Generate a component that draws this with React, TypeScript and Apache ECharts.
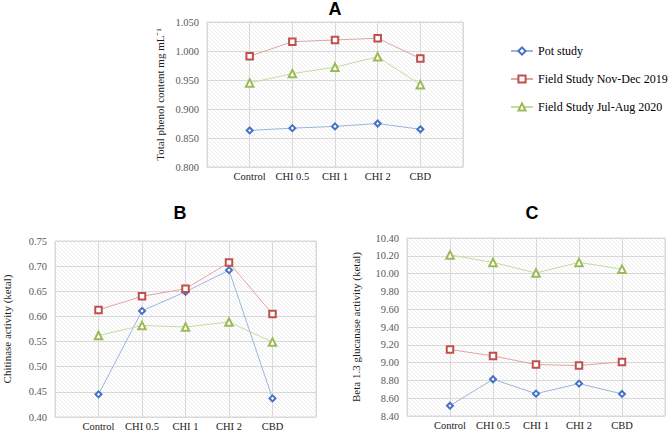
import React, { useEffect, useRef } from "react";
import * as echarts from "echarts";

const categories = ["Control", "CHI 0.5", "CHI 1", "CHI 2", "CBD"];
const seriesNames = ["Pot study", "Field Study Nov-Dec 2019", "Field Study Jul-Aug 2020"];

// Panel A: Total phenol content
const phenolPot = [0.863, 0.867, 0.870, 0.875, 0.865];
const phenolField2019 = [0.991, 1.016, 1.019, 1.022, 0.987];
const phenolField2020 = [0.945, 0.961, 0.972, 0.990, 0.942];

// Panel B: Chitinase activity
const chitPot = [0.445, 0.611, 0.649, 0.692, 0.437];
const chitField2019 = [0.613, 0.640, 0.655, 0.707, 0.605];
const chitField2020 = [0.562, 0.582, 0.579, 0.589, 0.549];

// Panel C: Beta 1,3 glucanase activity
const glucPot = [8.516, 8.813, 8.651, 8.764, 8.648];
const glucField2019 = [9.147, 9.075, 8.978, 8.967, 9.008];
const glucField2020 = [10.21, 10.126, 10.006, 10.126, 10.05];

const markerColors = ["#4472C4", "#C0504D", "#9BBB59"];
const lineColors = ["#9DB4DE", "#E3A3A1", "#C8DA9E"];
const symbols = ["emptyDiamond", "emptyRect", "emptyTriangle"];
const symbolSizes = [6, 6.5, 7.5];

const pad = <T,>(arr: T[]): (T | null)[] => [null, ...arr, null];
const axisCats = ["", ...categories, ""];

export default function App() {
  const ref = useRef<HTMLDivElement>(null);
  useEffect(() => {
    document.body.style.margin = "0";
    if (!ref.current) return;
    const chart = echarts.init(ref.current, undefined, { renderer: "svg" });

    const cv = document.createElement("canvas");
    cv.width = 4;
    cv.height = 4;
    const ctx = cv.getContext("2d")!;
    ctx.fillStyle = "#ffffff";
    ctx.fillRect(0, 0, 4, 4);
    ctx.fillStyle = "#ececec";
    for (let i = 0; i < 4; i++) ctx.fillRect(i, i, 1, 1);

    const grids = [
      { left: 207, top: 22, width: 256, height: 145 },
      { left: 53, top: 241, width: 263, height: 176 },
      { left: 407, top: 238, width: 258, height: 178 },
    ];
    const yCfg = [
      { min: 0.8, max: 1.05, interval: 0.05, dec: 3, name: "Total phenol content mg mL⁻¹", gap: 42 },
      { min: 0.4, max: 0.75, interval: 0.05, dec: 2, name: "Chitinase activity (ketal)", gap: 43 },
      { min: 8.4, max: 10.4, interval: 0.2, dec: 2, name: "Beta 1.3 glucanase activity (ketal)", gap: 46 },
    ];
    const panels = [
      [phenolPot, phenolField2019, phenolField2020],
      [chitPot, chitField2019, chitField2020],
      [glucPot, glucField2019, glucField2020],
    ];

    const serif = "'Liberation Serif', 'Times New Roman', serif";
    const series: any[] = [];
    panels.forEach((p, gi) => {
      p.forEach((vals, si) => {
        series.push({
          type: "line",
          name: seriesNames[si],
          xAxisIndex: gi,
          yAxisIndex: gi,
          data: pad(vals),
          symbol: symbols[si],
          symbolSize: symbolSizes[si],
          showAllSymbol: true,
          itemStyle: { color: markerColors[si], borderWidth: 1.3 },
          lineStyle: { color: lineColors[si], width: 1 },
          z: 3 + si,
        });
      });
    });

    chart.setOption({
      animation: false,
      grid: grids.map((g) => ({
        ...g,
        show: true,
        backgroundColor: { image: cv, repeat: "repeat" },
        borderColor: "#d9d9d9",
        borderWidth: 1,
      })),
      xAxis: grids.map((_, gi) => ({
        type: "category",
        gridIndex: gi,
        data: axisCats,
        boundaryGap: false,
        axisLine: { show: false },
        axisTick: { show: false },
        axisLabel: {
          interval: 0,
          fontFamily: serif,
          fontSize: 10.5,
          color: "#1a1a1a",
          margin: 4,
        },
        splitLine: { show: true, interval: 0, lineStyle: { color: "#d9d9d9", width: 1 } },
      })),
      yAxis: yCfg.map((c, gi) => ({
        type: "value",
        gridIndex: gi,
        min: c.min,
        max: c.max,
        interval: c.interval,
        name: c.name,
        nameLocation: "middle",
        nameGap: c.gap,
        nameRotate: 90,
        nameTextStyle: { fontFamily: serif, fontSize: 11, color: "#1a1a1a" },
        axisLine: { show: false },
        axisTick: { show: false },
        axisLabel: {
          fontFamily: serif,
          fontSize: 10.5,
          color: "#595959",
          margin: 8,
          formatter: (v: number) => v.toFixed(c.dec),
        },
        splitLine: { show: true, lineStyle: { color: "#d9d9d9", width: 1 } },
      })),
      legend: {
        orient: "vertical",
        left: 505,
        top: 40,
        itemWidth: 22,
        itemHeight: 9,
        itemGap: 16,
        data: seriesNames,
        textStyle: { fontFamily: serif, fontSize: 12, color: "#000" },
      },
      graphic: [
        { type: "text", x: 335, y: 9, style: { text: "A", font: "bold 18px 'Liberation Sans'", fill: "#000", textAlign: "center", textVerticalAlign: "middle" } },
        { type: "text", x: 180, y: 213, style: { text: "B", font: "bold 18px 'Liberation Sans'", fill: "#000", textAlign: "center", textVerticalAlign: "middle" } },
        { type: "text", x: 532, y: 213, style: { text: "C", font: "bold 18px 'Liberation Sans'", fill: "#000", textAlign: "center", textVerticalAlign: "middle" } },
      ],
      series,
    });
    return () => chart.dispose();
  }, []);
  return <div ref={ref} style={{ width: 669, height: 437, background: "#fff" }} />;
}
